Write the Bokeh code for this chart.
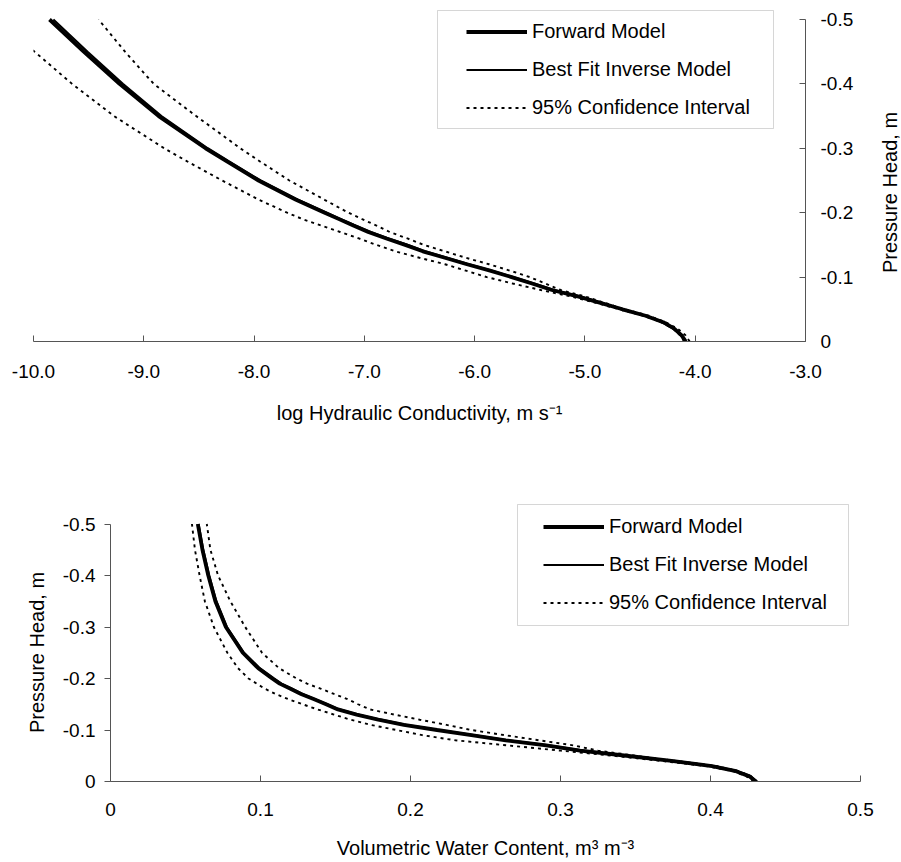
import math
from bokeh.plotting import figure
from bokeh.models import Range1d, FixedTicker, Legend, LegendItem, BoxAnnotation, Label
from bokeh.layouts import column, row
from bokeh.embed import file_html
from bokeh.resources import INLINE

# ---------------- data: upper panel (log K vs pressure head) ----------------
head_k = [0.0, -0.01, -0.02, -0.03, -0.04, -0.05, -0.06, -0.07, -0.08, -0.09,
          -0.10, -0.11, -0.12, -0.13, -0.14, -0.15, -0.16, -0.17, -0.18, -0.19,
          -0.20, -0.22, -0.25, -0.28, -0.30, -0.35, -0.40, -0.45, -0.50]
logk_forward = [-4.085, -4.125, -4.19, -4.29, -4.45, -4.66, -4.86, -5.065, -5.30, -5.48,
                -5.665, -5.86, -6.07, -6.27, -6.47, -6.63, -6.80, -6.965, -7.10, -7.23,
                -7.36, -7.62, -7.96, -8.25, -8.44, -8.865, -9.22, -9.545, -9.855]
logk_bestfit = [-4.09, -4.13, -4.20, -4.30, -4.45, -4.66, -4.85, -5.05, -5.28, -5.46,
                -5.65, -5.85, -6.05, -6.25, -6.45, -6.61, -6.78, -6.94, -7.08, -7.21,
                -7.34, -7.60, -7.94, -8.23, -8.42, -8.84, -9.19, -9.51, -9.82]
logk_upper = [-4.05, -4.09, -4.16, -4.27, -4.42, -4.64, -4.82, -5.00, -5.22, -5.36,
              -5.50, -5.68, -5.87, -6.08, -6.27, -6.46, -6.61, -6.77, -6.89, -7.02,
              -7.145, -7.36, -7.68, -7.95, -8.125, -8.525, -8.91, -9.17, -9.41]
logk_lower = [-4.10, -4.14, -4.20, -4.31, -4.47, -4.69, -4.90, -5.13, -5.40, -5.655,
              -5.89, -6.08, -6.27, -6.50, -6.72, -6.89, -7.05, -7.22, -7.39, -7.56,
              -7.70, -7.955, -8.29, -8.61, -8.815, -9.27, -9.65, -9.99, -10.31]

logk_ticks = [-10, -9, -8, -7, -6, -5, -4, -3]
logk_tick_labels = ["-10.0", "-9.0", "-8.0", "-7.0", "-6.0", "-5.0", "-4.0", "-3.0"]

# ---------------- data: lower panel (water content vs pressure head) ----------------
head_t = [0.0, -0.01, -0.02, -0.03, -0.04, -0.05, -0.06, -0.07, -0.08, -0.09,
          -0.10, -0.11, -0.12, -0.13, -0.14, -0.15, -0.16, -0.17, -0.18, -0.19,
          -0.20, -0.22, -0.25, -0.30, -0.35, -0.40, -0.45, -0.50]
theta_forward = [0.430, 0.426, 0.417, 0.401, 0.374, 0.344, 0.313, 0.2905, 0.2635, 0.2406,
                 0.2177, 0.1956, 0.1785, 0.1641, 0.1516, 0.1437, 0.1354, 0.127, 0.120, 0.1128,
                 0.1078, 0.0985, 0.0882, 0.0769, 0.0699, 0.0652, 0.0613, 0.0582]
theta_bestfit = [0.431, 0.427, 0.418, 0.402, 0.375, 0.345, 0.315, 0.292, 0.265, 0.242,
                 0.219, 0.197, 0.180, 0.165, 0.1525, 0.1445, 0.136, 0.128, 0.121, 0.114,
                 0.109, 0.0995, 0.0890, 0.0776, 0.0706, 0.0658, 0.0618, 0.0587]
theta_upper = [0.431, 0.427, 0.419, 0.404, 0.377, 0.350, 0.325, 0.309, 0.2857, 0.2628,
               0.2405, 0.224, 0.2062, 0.189, 0.173, 0.165, 0.158, 0.149, 0.1404, 0.131,
               0.124, 0.1124, 0.101, 0.0898, 0.0799, 0.0717, 0.0666, 0.0642]
theta_lower = [0.429, 0.424, 0.415, 0.397, 0.367, 0.335, 0.300, 0.265, 0.2299, 0.2078,
               0.1906, 0.1733, 0.160, 0.149, 0.138, 0.128, 0.1184, 0.110, 0.103, 0.0975,
               0.0920, 0.0850, 0.0779, 0.0689, 0.0629, 0.0594, 0.0563, 0.0543]

theta_ticks = [0, 0.1, 0.2, 0.3, 0.4, 0.5]
theta_tick_labels = ["0", "0.1", "0.2", "0.3", "0.4", "0.5"]

head_ticks = [0, -0.1, -0.2, -0.3, -0.4, -0.5]
head_tick_labels = ["0", "-0.1", "-0.2", "-0.3", "-0.4", "-0.5"]

series_labels = ["Forward Model", "Best Fit Inverse Model", "95% Confidence Interval"]
title_logk = "log Hydraulic Conductivity, m s\u207b\u00b9"
title_theta = "Volumetric Water Content, m\u00b3 m\u207b\u00b3"
title_head = "Pressure Head, m"

# ---------------- styling ----------------
FONT = "Liberation Sans"
AXIS_COLOR = "#555555"
TICK_FONT = "19px"
TITLE_FONT = "20px"
CI_DASH = "3 4"
CI_WIDTH = 1.9


def style_axis(ax, ticks, labels, tick_in, tick_out, standoff, title=None, title_standoff=0):
    ax.ticker = FixedTicker(ticks=ticks)
    ax.major_label_overrides = dict(zip(ticks, labels))
    ax.major_tick_in = tick_in
    ax.major_tick_out = tick_out
    ax.minor_tick_line_color = None
    ax.axis_line_color = AXIS_COLOR
    ax.major_tick_line_color = AXIS_COLOR
    ax.axis_line_width = 1
    ax.major_label_text_font = FONT
    ax.major_label_text_font_size = TICK_FONT
    ax.major_label_text_color = "black"
    ax.major_label_standoff = standoff
    if title is not None:
        ax.axis_label = title
        ax.axis_label_standoff = title_standoff
        ax.axis_label_text_font = FONT
        ax.axis_label_text_font_size = TITLE_FONT
        ax.axis_label_text_font_style = "normal"
        ax.axis_label_text_color = "black"


def base_style(p):
    p.grid.visible = False
    p.outline_line_color = None
    p.background_fill_color = "white"
    p.border_fill_color = "white"
    try:
        p.frame_align = False
    except Exception:
        pass


def add_legend(p, renderers, loc):
    leg = Legend(items=[LegendItem(label=series_labels[i], renderers=[r])
                        for i, r in enumerate(renderers)],
                 location=loc, padding=0, margin=0, spacing=15,
                 glyph_width=61, glyph_height=23, label_height=23, label_standoff=5,
                 label_text_font=FONT, label_text_font_size=TITLE_FONT,
                 label_text_color="black",
                 border_line_color=None, background_fill_alpha=0)
    p.add_layout(leg)


def title_strip(width, height, x, y, text):
    """A narrow blank figure that carries a vertical (bottom-to-top) axis title."""
    t = figure(width=width, height=height, x_range=Range1d(0, 1), y_range=Range1d(0, 1),
               x_axis_location=None, y_axis_location=None, output_backend="svg",
               toolbar_location=None, title=None, min_border=0,
               min_border_left=0, min_border_right=0, min_border_top=0, min_border_bottom=0)
    base_style(t)
    t.add_layout(Label(x=x, y=y, x_units="screen", y_units="screen", text=text,
                       angle=math.pi / 2, text_align="center", text_baseline="middle",
                       text_font=FONT, text_font_size=TITLE_FONT, text_color="black"))
    return t


# ---------------- upper panel ----------------
p1 = figure(width=869, height=430, x_range=Range1d(-10, -3), y_range=Range1d(0, -332 / 644),
            y_axis_location="right", output_backend="svg", toolbar_location=None, title=None,
            min_border_left=33, min_border_right=64, min_border_top=9, min_border_bottom=89)
base_style(p1)
style_axis(p1.xaxis[0], logk_ticks, logk_tick_labels, 6, 0, 23, title_logk, 21)
style_axis(p1.yaxis[0], head_ticks, head_tick_labels, 6, 0, 15)
p1.yaxis[0].bounds = (-0.5, 0)

u1 = p1.line(logk_upper, head_k, line_color="black", line_width=CI_WIDTH, line_dash=CI_DASH)
l1 = p1.line(logk_lower, head_k, line_color="black", line_width=CI_WIDTH, line_dash=CI_DASH)
b1 = p1.line(logk_bestfit, head_k, line_color="black", line_width=2.2)
f1 = p1.line(logk_forward, head_k, line_color="black", line_width=3.8)

p1.add_layout(BoxAnnotation(left=404, right=740, bottom=213, top=331,
                            left_units="screen", right_units="screen",
                            bottom_units="screen", top_units="screen",
                            fill_alpha=0, line_color="#777777", line_width=1))
add_legend(p1, [f1, b1, u1], (433, 222))

t1 = title_strip(32, 430, 20, 238, title_head)

# ---------------- lower panel ----------------
p2 = figure(width=845, height=432, x_range=Range1d(0, 0.5), y_range=Range1d(0, -281 / 515),
            output_backend="svg", toolbar_location=None, title=None,
            min_border_left=54, min_border_right=41, min_border_top=70, min_border_bottom=81)
base_style(p2)
style_axis(p2.xaxis[0], theta_ticks, theta_tick_labels, 6, 0, 21, title_theta, 18)
style_axis(p2.yaxis[0], head_ticks, head_tick_labels, 0, 6, 9)
p2.yaxis[0].bounds = (-0.5, 0)

u2 = p2.line(theta_upper, head_t, line_color="black", line_width=CI_WIDTH, line_dash=CI_DASH)
l2 = p2.line(theta_lower, head_t, line_color="black", line_width=CI_WIDTH, line_dash=CI_DASH)
b2 = p2.line(theta_bestfit, head_t, line_color="black", line_width=2.2)
f2 = p2.line(theta_forward, head_t, line_color="black", line_width=3.8)

p2.add_layout(BoxAnnotation(left=407, right=738, bottom=156, top=277,
                            left_units="screen", right_units="screen",
                            bottom_units="screen", top_units="screen",
                            fill_alpha=0, line_color="#777777", line_width=1))
add_legend(p2, [f2, b2, u2], (433, 167))

t2 = title_strip(56, 432, 36, 210, title_head)

layout = column(row(p1, t1), row(t2, p2))
open("out.html", "w").write(file_html(layout, INLINE))
